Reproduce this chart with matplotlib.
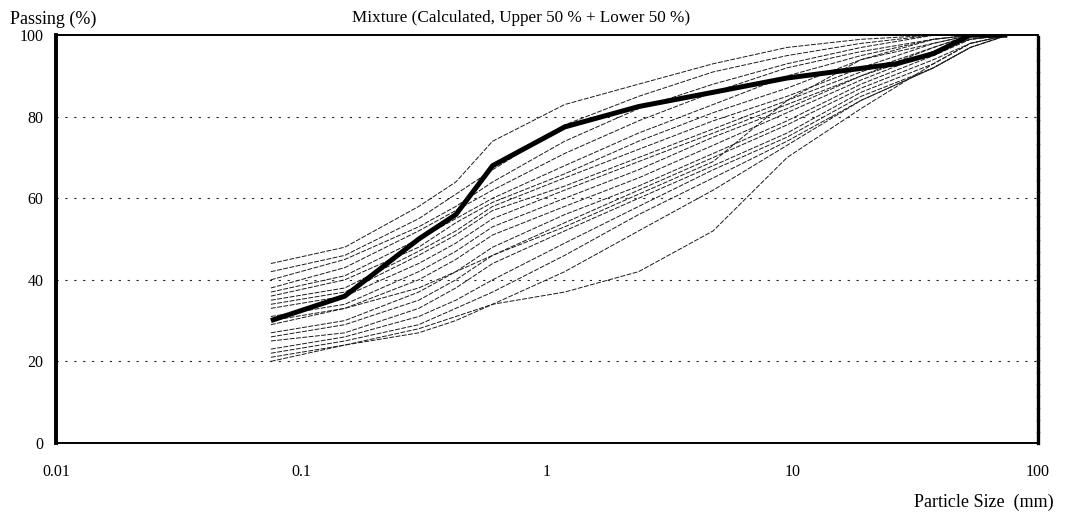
import numpy as np
import matplotlib
matplotlib.use("Agg")
import matplotlib.pyplot as plt

# sieve sizes (mm) used for the individual gradation curves
sieve = [0.075, 0.15, 0.3, 0.425, 0.6, 1.18, 2.36, 4.75, 9.5, 19, 37.5, 53, 75]

# passing (%) of each sample at the sieve sizes above
thin_passing = [
    [44, 48, 58, 64, 74, 83, 88, 93, 97, 99, 100, 100, 100],
    [42, 46, 55, 61, 67, 78, 85, 91, 95, 98, 100, 100, 100],
    [40, 45, 53, 58, 64, 74, 82, 88, 93, 97, 100, 100, 100],
    [38, 43, 52, 57, 62, 71, 79, 86, 92, 96, 99, 100, 100],
    [37, 41, 50, 55, 60, 68, 76, 83, 90, 95, 99, 100, 100],
    [36, 40, 48, 54, 59, 66, 74, 81, 87, 94, 98, 100, 100],
    [35, 38, 47, 52, 58, 65, 72, 79, 85, 92, 98, 100, 100],
    [34, 37, 46, 51, 57, 63, 70, 77, 84, 91, 97, 100, 100],
    [33, 36, 44, 49, 55, 62, 69, 76, 83, 90, 97, 100, 100],
    [31, 34, 42, 47, 53, 60, 67, 75, 82, 90, 96, 99, 100],
    [30, 33, 38, 42, 46, 53, 61, 69, 84, 94, 99, 100, 100],
    [29, 33, 40, 45, 51, 58, 65, 73, 81, 89, 96, 99, 100],
    [27, 30, 37, 42, 48, 56, 63, 71, 79, 88, 95, 99, 100],
    [26, 29, 35, 40, 46, 54, 62, 70, 78, 87, 94, 98, 100],
    [25, 27, 33, 38, 44, 52, 60, 68, 76, 86, 93, 98, 100],
    [23, 26, 31, 35, 40, 49, 58, 67, 75, 85, 92, 97, 100],
    [22, 25, 29, 33, 37, 46, 56, 65, 74, 84, 92, 97, 100],
    [21, 24, 27, 30, 34, 42, 52, 62, 73, 84, 92, 97, 100],
    [20, 24, 28, 31, 34, 37, 42, 52, 70, 82, 93, 98, 100],
]

# calculated mixture (upper 50 % + lower 50 %)
mix_size = [0.075, 0.15, 0.3, 0.425, 0.6, 1.18, 2.36, 4.75, 9.5, 26.5, 37.5, 53, 75]
mix_passing = [30, 36, 50, 56, 68, 77.5, 82.5, 86, 89.5, 93, 95.5, 100, 100]

y_ticks = [0, 20, 40, 60, 80, 100]
x_ticks = [0.01, 0.1, 1, 10, 100]
x_ticklabels = ["0.01", "0.1", "1", "10", "100"]

plt.rcParams["font.family"] = ["Liberation Serif", "DejaVu Serif"]

fig = plt.figure(figsize=(10.79, 5.18), dpi=100)
ax = fig.add_axes([0.052, 0.145, 0.910, 0.787])

for row in thin_passing:
    ax.plot(sieve, row, color="0.1", lw=0.7, ls=(0, (5, 1.5)))
ax.plot(mix_size, mix_passing, color="black", lw=3.6, solid_capstyle="butt")

ax.set_xscale("log")
ax.set_xlim(0.01, 100)
ax.set_ylim(0, 100)

for v in [20, 40, 60, 80]:
    ax.axhline(v, color="0.15", lw=0.8, ls=(0, (2, 6)), zorder=0)

ax.set_xticks(x_ticks)
ax.set_xticklabels(x_ticklabels)
ax.minorticks_off()
ax.set_yticks(y_ticks)
ax.tick_params(length=0, labelsize=11.5)
ax.tick_params(axis="x", pad=15)
ax.tick_params(axis="y", pad=9)

ax.spines["left"].set_linewidth(2.8)
ax.spines["right"].set_linewidth(2.4)
ax.spines["right"].set_linestyle((0, (3, 0.6)))
ax.spines["top"].set_linewidth(1.4)
ax.spines["bottom"].set_linewidth(1.4)

fig.text(0.009, 0.953, "Passing (%)", fontsize=13)
fig.text(0.483, 0.965, "Mixture (Calculated, Upper 50 % + Lower 50 %)",
         fontsize=12.3, ha="center", va="center")
fig.text(0.912, 0.022, "Particle Size  (mm)", fontsize=13, ha="center")

fig.savefig("out.png", dpi=100)
